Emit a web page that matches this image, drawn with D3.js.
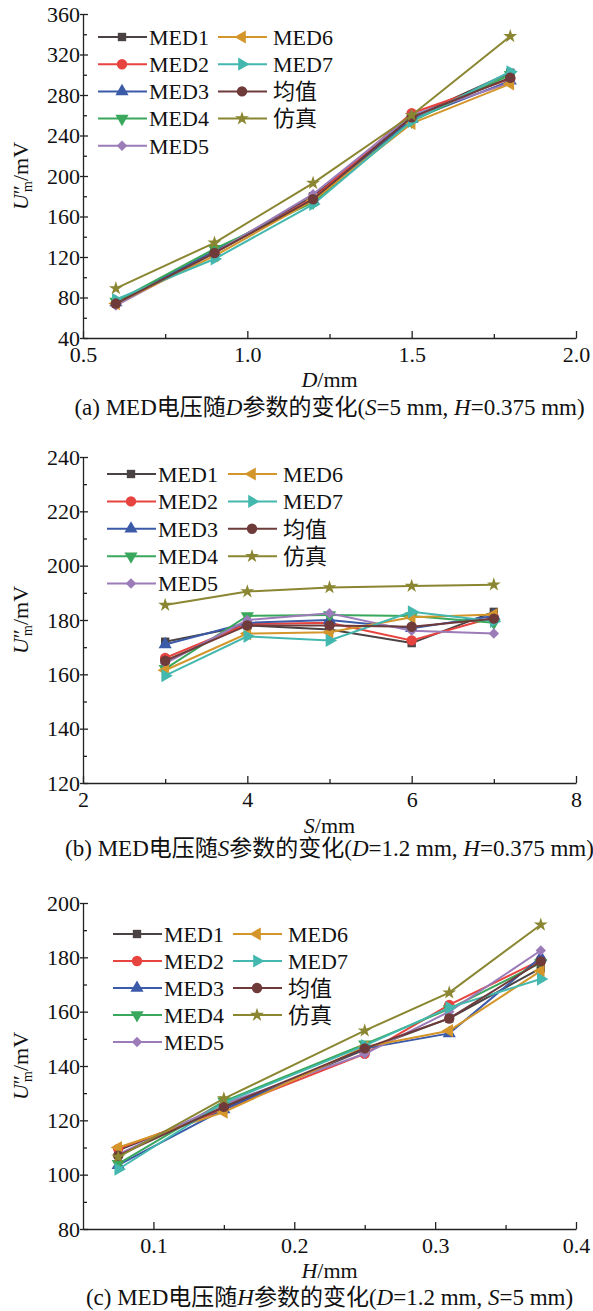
<!DOCTYPE html>
<html><head><meta charset="utf-8">
<script src="https://cdn.jsdelivr.net/npm/d3@7"></script>
<style>
body{margin:0;background:#fff}
text{font-family:"Liberation Serif","Times New Roman","Noto Sans CJK SC",serif;fill:#111}
</style>
</head><body>
<svg id="chart" width="593" height="1311"></svg>
<script>
// ---------- data ----------
const seriesNames = ["MED1","MED2","MED3","MED4","MED5","MED6","MED7","均值","仿真"];

// Panel (a): voltage vs D
const dValues = [0.6, 0.9, 1.2, 1.5, 1.8];
const dMED1 = [74, 125, 180, 258, 302];
const dMED2 = [74, 124, 178, 262, 296];
const dMED3 = [75, 126, 176, 256, 294];
const dMED4 = [76, 128, 174, 254, 300];
const dMED5 = [72, 124, 182, 260, 292];
const dMED6 = [74, 121, 176, 252, 291];
const dMED7 = [78, 118, 172, 254, 303];
const dMean = [74, 124, 177, 258, 297];
const dSim  = [89, 134, 193, 260, 338];
const dXTicks = [0.5, 1.0, 1.5, 2.0];
const dYTicks = [40, 80, 120, 160, 200, 240, 280, 320, 360];

// Panel (b): voltage vs S
const sValues = [3, 4, 5, 6, 7];
const sMED1 = [172, 178, 176.5, 171.5, 183];
const sMED2 = [166, 178.5, 179, 172.5, 181];
const sMED3 = [171, 179, 180, 177, 181.5];
const sMED4 = [162, 181.5, 181.8, 181.5, 179];
const sMED5 = [164, 180, 182.5, 176, 175];
const sMED6 = [161.5, 175, 175.5, 181, 182];
const sMED7 = [159.5, 174, 172.5, 183, 179.5];
const sMean = [165, 178, 178, 177.5, 180.5];
const sSim  = [185.5, 190.5, 192, 192.5, 193];
const sXTicks = [2, 4, 6, 8];
const sYTicks = [120, 140, 160, 180, 200, 220, 240];

// Panel (c): voltage vs H
const hValues = [0.075, 0.15, 0.25, 0.31, 0.375];
const hMED1 = [109, 124.5, 146, 157.5, 176];
const hMED2 = [109.5, 124, 144.5, 162.5, 179];
const hMED3 = [103.5, 124, 146.5, 152, 180];
const hMED4 = [104, 127, 148, 161, 178];
const hMED5 = [107.5, 126, 144.5, 160, 182.5];
const hMED6 = [110, 123, 147, 153, 175];
const hMED7 = [102, 126.5, 147.5, 161.5, 172];
const hMean = [107, 125, 146.5, 157.5, 178.5];
const hSim  = [106.5, 128, 153, 167, 192];
const hXTicks = [0.1, 0.2, 0.3, 0.4];
const hYTicks = [80, 100, 120, 140, 160, 180, 200];

// ---------- styles ----------
const colors = ["#4a4243","#e8443f","#3b5aa8","#3aa85c","#9b7bb8","#d4962b","#44b8ae","#6e3b3a","#8a8631"];
const shapes = ["square","circle","up","down","diamond","left","right","circle","star"];

const svg = d3.select("#chart");

function markerPath(shape){
  const T = d3.symbolTriangle;
  switch(shape){
    case "square": return {d:d3.symbol(d3.symbolSquare,70)(), r:0};
    case "circle": return {d:d3.symbol(d3.symbolCircle,85)(), r:0};
    case "up": return {d:d3.symbol(T,75)(), r:0};
    case "down": return {d:d3.symbol(T,75)(), r:180};
    case "left": return {d:d3.symbol(T,75)(), r:-90};
    case "right": return {d:d3.symbol(T,75)(), r:90};
    case "diamond": return {d:d3.symbol(d3.symbolSquare,55)(), r:45};
    case "star": return {d:d3.symbol(d3.symbolStar,60)(), r:0};
  }
}

function drawPanel(p){
  const g = svg.append("g");
  const x = d3.scaleLinear().domain(p.xDomain).range([p.left, p.right]);
  const y = d3.scaleLinear().domain(p.yDomain).range([p.bottom, p.top]);

  // minor ticks
  const xa = g.append("g").attr("transform",`translate(0,${p.bottom})`)
    .call(d3.axisBottom(x).tickValues(p.xMinor).tickSize(-4).tickFormat("").tickSizeOuter(0));
  xa.select(".domain").remove();
  const ya = g.append("g").attr("transform",`translate(${p.left},0)`)
    .call(d3.axisLeft(y).tickValues(p.yMinor).tickSize(-4).tickFormat("").tickSizeOuter(0));
  ya.select(".domain").remove();

  // major axes
  const xAxis = g.append("g").attr("transform",`translate(0,${p.bottom})`)
    .call(d3.axisBottom(x).tickValues(p.xTicks).tickSize(-7).tickPadding(8).tickSizeOuter(0).tickFormat(p.xFmt));
  const yAxis = g.append("g").attr("transform",`translate(${p.left},0)`)
    .call(d3.axisLeft(y).tickValues(p.yTicks).tickSize(-6).tickPadding(3).tickSizeOuter(0).tickFormat(d3.format("d")));
  yAxis.selectAll(".tick line").attr("x1",-3).attr("x2",5);
  [xAxis,yAxis,xa,ya].forEach(a=>{
    a.attr("font-family",null).attr("font-size",null);
    a.selectAll("line,path").attr("stroke","#222").attr("stroke-width",1.3);
    a.selectAll("text").style("font-size","22px").attr("fill","#111");
  });

  // series
  const line = d3.line().x(d=>x(d[0])).y(d=>y(d[1]));
  p.series.forEach((vals,i)=>{
    const pts = p.xValues.map((xv,j)=>[xv, vals[j]]);
    g.append("path").datum(pts).attr("d",line)
      .attr("fill","none").attr("stroke",colors[i]).attr("stroke-width",2);
    const m = markerPath(shapes[i]);
    g.selectAll(null).data(pts).enter().append("path")
      .attr("d",m.d).attr("fill",colors[i])
      .attr("transform",d=>`translate(${x(d[0])},${y(d[1])}) rotate(${m.r})`);
  });

  // legend
  seriesNames.forEach((name,i)=>{
    const col = i<5?0:1, row = i<5?i:i-5;
    const lx = p.legX[col], ly = p.legY + row*p.legDy;
    g.append("line").attr("x1",lx).attr("x2",lx+49).attr("y1",ly).attr("y2",ly)
      .attr("stroke",colors[i]).attr("stroke-width",2);
    const m = markerPath(shapes[i]);
    g.append("path").attr("d",m.d).attr("fill",colors[i])
      .attr("transform",`translate(${lx+24},${ly}) rotate(${m.r})`);
    g.append("text").attr("x",lx+51+(col?4:0)).attr("y",ly).attr("dy","0.35em")
      .style("font-size","22px").text(name);
  });

  // y title
  const yt = g.append("text").attr("transform",`translate(28,${(p.top+p.bottom)/2}) rotate(-90)`)
    .attr("text-anchor","middle").style("font-size","22px");
  yt.append("tspan").style("font-style","italic").text("U");
  yt.append("tspan").text("″");
  yt.append("tspan").attr("dx",-7).attr("dy",4).style("font-size","14px").text("m");
  yt.append("tspan").attr("dy",-4).text("/mV");

  // x title
  const xt = g.append("text").attr("x",(p.left+p.right)/2).attr("y",p.xTitleY)
    .attr("text-anchor","middle").attr("dy","0.35em").style("font-size","22px");
  xt.append("tspan").style("font-style","italic").text(p.xVar);
  xt.append("tspan").text("/mm");

  // caption
  const cp = g.append("text").attr("x",(p.left+p.right)/2).attr("y",p.capY)
    .attr("text-anchor","middle").attr("dy","0.35em").style("font-size","23px");
  p.caption.forEach(s=>{
    cp.append("tspan").style("font-style",s[1]?"italic":"normal").text(s[0]);
  });
}

drawPanel({
  left:83, right:576, top:14, bottom:338,
  xDomain:[0.5,2.0], yDomain:[40,360],
  xTicks:dXTicks, yTicks:dYTicks,
  xMinor:[0.75,1.25,1.75], yMinor:[60,100,140,180,220,260,300,340],
  xFmt:d3.format(".1f"),
  xValues:dValues, series:[dMED1,dMED2,dMED3,dMED4,dMED5,dMED6,dMED7,dMean,dSim],
  legX:[98,218], legY:37, legDy:27.2,
  xVar:"D", xTitleY:379, capY:407,
  caption:[["(a) MED电压随",0],["D",1],["参数的变化(",0],["S",1],["=5 mm, ",0],["H",1],["=0.375 mm)",0]]
});
drawPanel({
  left:83, right:576, top:457, bottom:783,
  xDomain:[2,8], yDomain:[120,240],
  xTicks:sXTicks, yTicks:sYTicks,
  xMinor:[3,5,7], yMinor:[130,150,170,190,210,230],
  xFmt:d3.format("d"),
  xValues:sValues, series:[sMED1,sMED2,sMED3,sMED4,sMED5,sMED6,sMED7,sMean,sSim],
  legX:[107,228], legY:474, legDy:27.4,
  xVar:"S", xTitleY:825, capY:848,
  caption:[["(b) MED电压随",0],["S",1],["参数的变化(",0],["D",1],["=1.2 mm, ",0],["H",1],["=0.375 mm)",0]]
});
drawPanel({
  left:83, right:576, top:903, bottom:1229,
  xDomain:[0.05,0.4], yDomain:[80,200],
  xTicks:hXTicks, yTicks:hYTicks,
  xMinor:[0.15,0.25,0.35], yMinor:[90,110,130,150,170,190],
  xFmt:d3.format(".1f"),
  xValues:hValues, series:[hMED1,hMED2,hMED3,hMED4,hMED5,hMED6,hMED7,hMean,hSim],
  legX:[113,233], legY:934, legDy:27,
  xVar:"H", xTitleY:1270, capY:1297,
  caption:[["(c) MED电压随",0],["H",1],["参数的变化(",0],["D",1],["=1.2 mm, ",0],["S",1],["=5 mm)",0]]
});
</script>
</body></html>
